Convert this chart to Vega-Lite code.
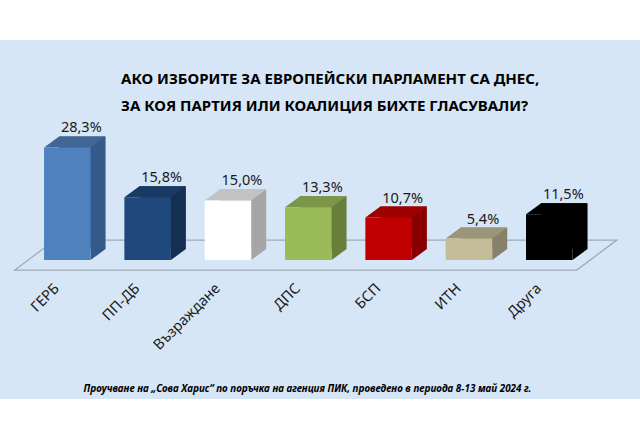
{
"$schema":"https://vega.github.io/schema/vega-lite/v6.json",
"width":640,"height":359,
"autosize":{"type":"none"},
"padding":{"left":0,"right":0,"top":40,"bottom":40},
"background":"#ffffff",
"view":{"fill":"#d6e6f6","stroke":null},
"title":{"text":["АКО ИЗБОРИТЕ ЗА ЕВРОПЕЙСКИ ПАРЛАМЕНТ СА ДНЕС,","ЗА КОЯ ПАРТИЯ ИЛИ КОАЛИЦИЯ БИХТЕ ГЛАСУВАЛИ?"],"anchor":"start","frame":"group","dx":121,"dy":81,"fontSize":15,"font":"Noto Sans","fontWeight":"bold","color":"#000000","lineHeight":27,"baseline":"middle","offset":0},
"data":{"values":[
{"party":"ГЕРБ","value":28.3,"label":"28,3%"},
{"party":"ПП-ДБ","value":15.8,"label":"15,8%"},
{"party":"Възраждане","value":15.0,"label":"15,0%"},
{"party":"ДПС","value":13.3,"label":"13,3%"},
{"party":"БСП","value":10.7,"label":"10,7%"},
{"party":"ИТН","value":5.4,"label":"5,4%"},
{"party":"Друга","value":11.5,"label":"11,5%"}
]},
"encoding":{
"x":{"field":"party","type":"nominal","sort":null,
"scale":{"domain":["ГЕРБ","ПП-ДБ","Възраждане","ДПС","БСП","ИТН","Друга"],"paddingInner":0.421,"paddingOuter":0.694,"align":0.395},
"axis":{"orient":"bottom","offset":-113,"domain":false,"ticks":false,"grid":false,"labelAngle":-45,"labelAlign":"right","labelBaseline":"middle","labelPadding":0,"labelOffset":-10,"labelFontSize":14.5,"labelFont":"Noto Sans","labelColor":"#1a1a1a","title":"Проучване на „Сова Харис“ по поръчка на агенция ПИК, проведено в периода 8-13 май 2024 г.","titleX":307,"titleY":102,"titleAlign":"center","titleBaseline":"middle","titleFont":"Noto Sans","titleFontSize":9.9,"titleFontWeight":"bold","titleFontStyle":"italic","titleColor":"#000000"}},
"y":{"field":"value","type":"quantitative","scale":{"domain":[-34.9,55.3],"nice":false,"zero":false},"axis":null}
},
"layer":[
{"data":{"values":[{"floor":0}]},
 "mark":{"type":"point","filled":false,"opacity":1,"size":4,"stroke":"#9fabb8","strokeWidth":1.3,"shape":"M-293.5 10L268.5 10L308.5 -20L-253.5 -20Z"},
 "encoding":{"x":{"datum":"ДПС"},"y":{"field":"floor","type":"quantitative"}}},
{"mark":{"type":"bar","xOffset":15,"x2Offset":15,"yOffset":-11,"y2Offset":-11},
 "encoding":{"y2":{"datum":0},"color":{"field":"party","type":"nominal","legend":null,"scale":{"domain":["ГЕРБ","ПП-ДБ","Възраждане","ДПС","БСП","ИТН","Друга"],"range":["#335a8a","#152f52","#a6a6a6","#687f3a","#8a0000","#86826a","#000000"]}}}},
{"mark":{"type":"point","filled":true,"opacity":1,"size":4,"strokeWidth":0,"shape":"M23.25 0L38.25 -11L23.25 -11Z"},
 "encoding":{"y":{"datum":0},"color":{"field":"party","type":"nominal","legend":null,"scale":{"domain":["ГЕРБ","ПП-ДБ","Възраждане","ДПС","БСП","ИТН","Друга"],"range":["#335a8a","#152f52","#a6a6a6","#687f3a","#8a0000","#86826a","#000000"]}}}},
{"mark":{"type":"point","filled":true,"opacity":1,"size":4,"strokeWidth":0,"shape":"M-23.25 0L23.25 0L38.25 -11L-8.25 -11Z"},
 "encoding":{"color":{"field":"party","type":"nominal","legend":null,"scale":{"domain":["ГЕРБ","ПП-ДБ","Възраждане","ДПС","БСП","ИТН","Друга"],"range":["#3f6695","#193a64","#c2c2c2","#7c9647","#9e0000","#9c9678","#000000"]}}}},
{"mark":{"type":"bar"},
 "encoding":{"y2":{"datum":0},"color":{"field":"party","type":"nominal","legend":null,"scale":{"domain":["ГЕРБ","ПП-ДБ","Възраждане","ДПС","БСП","ИТН","Друга"],"range":["#4f81bd","#1f497d","#ffffff","#9bbb59","#c00000","#c4bd97","#000000"]}}}},
{"mark":{"type":"text","dx":14,"dy":-19,"fontSize":14.5,"font":"Noto Sans","color":"#1a1a1a","baseline":"middle"},
 "encoding":{"text":{"field":"label","type":"nominal"}}}
],
"resolve":{"scale":{"color":"independent"}}
}
